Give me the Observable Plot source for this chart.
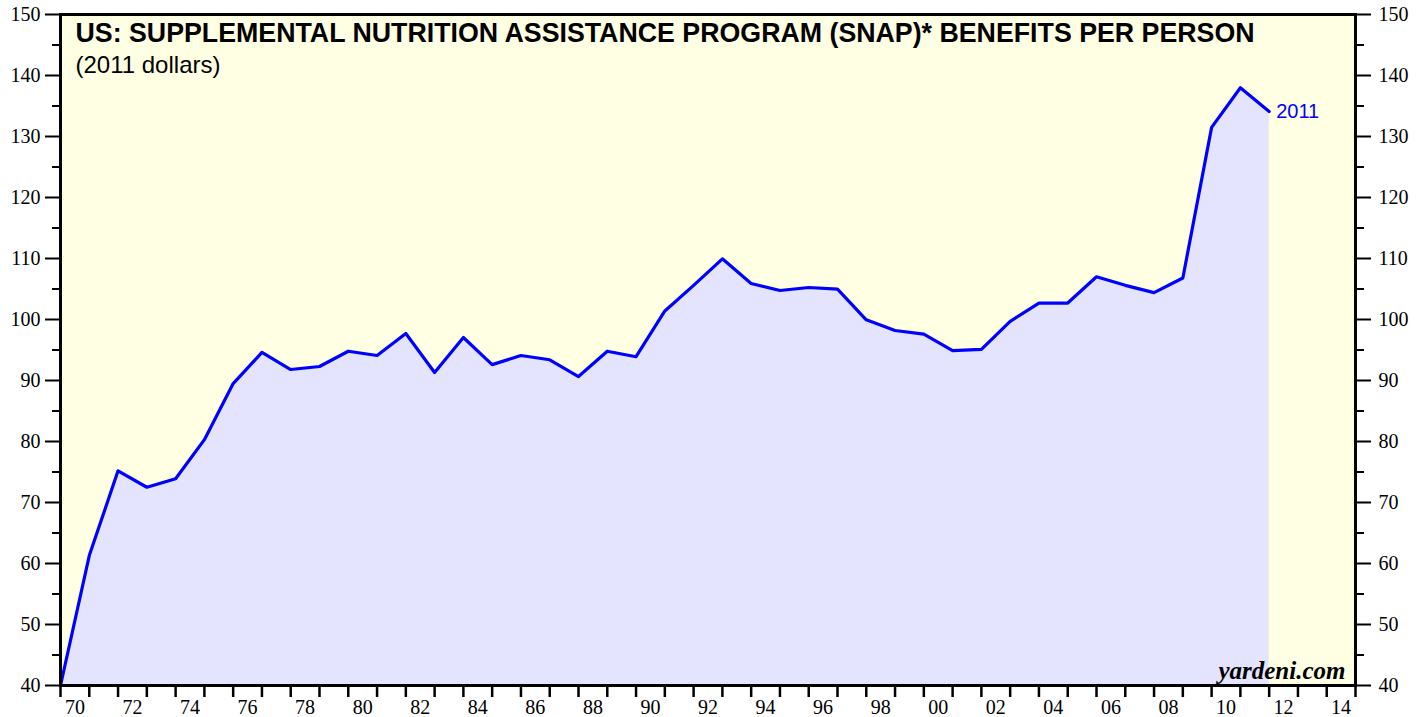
<!DOCTYPE html>
<html>
<head>
<meta charset="utf-8">
<script src="https://cdn.jsdelivr.net/npm/d3@7"></script>
<script src="https://cdn.jsdelivr.net/npm/@observablehq/plot@0.6"></script>
<style>
  html, body { margin: 0; padding: 0; background: #fff; }
  #chart svg { display: block; }
</style>
</head>
<body>
<div id="chart"></div>
<script>
// Fiscal years and SNAP benefits per person (2011 dollars), plotted at year end
const years = [1969,1970,1971,1972,1973,1974,1975,1976,1977,1978,1979,1980,1981,1982,1983,1984,1985,1986,1987,1988,1989,1990,1991,1992,1993,1994,1995,1996,1997,1998,1999,2000,2001,2002,2003,2004,2005,2006,2007,2008,2009,2010,2011];
const values = [40.0,61.3,75.2,72.5,73.9,80.3,89.5,94.6,91.8,92.3,94.8,94.1,97.7,91.3,97.05,92.6,94.1,93.4,90.65,94.8,93.9,101.4,105.6,109.95,105.9,104.75,105.25,104.97,99.95,98.2,97.6,94.9,95.1,99.7,102.7,102.7,107.0,105.6,104.4,106.8,131.5,138.0,134.1];
const yMajor = [40,50,60,70,80,90,100,110,120,130,140,150];
const yMinor = [45,55,65,75,85,95,105,115,125,135,145];
const xTickYears = d3.range(1970, 2016);
const xLabelYears = [1970,1972,1974,1976,1978,1980,1982,1984,1986,1988,1990,1992,1994,1996,1998,2000,2002,2004,2006,2008,2010,2012,2014];
const xLabels = ["70","72","74","76","78","80","82","84","86","88","90","92","94","96","98","00","02","04","06","08","10","12","14"];
const title = "US: SUPPLEMENTAL NUTRITION ASSISTANCE PROGRAM (SNAP)* BENEFITS PER PERSON";
const subtitle = "(2011 dollars)";
const endLabel = "2011";
const source = "yardeni.com";

const data = years.map((y, i) => ({year: y, value: values[i]}));
const last = data[data.length - 1];
const labelMap = new Map(xLabelYears.map((y, i) => [y + 0.5, xLabels[i]]));

const serif = "Liberation Serif, Times New Roman, serif";
const sans = "Liberation Sans, Arial, sans-serif";

const chart = Plot.plot({
  width: 1426,
  height: 717,
  marginLeft: 60,
  marginRight: 71,
  marginTop: 14,
  marginBottom: 32,
  style: {background: "#ffffff", fontFamily: serif, fontSize: "20px", color: "#000"},
  x: {domain: [1970, 2015], label: null},
  y: {domain: [40, 150], label: null},
  marks: [
    Plot.frame({fill: "#FFFFE4"}),
    Plot.areaY(data, {x: d => d.year + 1, y1: 40, y2: "value", fill: "#E4E4FF"}),
    Plot.lineY(data, {x: d => d.year + 1, y: "value", stroke: "#0000FF", strokeWidth: 3.2}),
    Plot.text([last], {x: d => d.year + 1, y: "value", text: () => endLabel, dx: 7, textAnchor: "start", fill: "#0000FF", fontFamily: sans, fontSize: 20}),
    Plot.text([title], {frameAnchor: "top-left", dx: 15, dy: 18.5, fontFamily: sans, fontWeight: "bold", fontSize: 26.75, fill: "#000", lineAnchor: "middle"}),
    Plot.text([subtitle], {frameAnchor: "top-left", dx: 15, dy: 51, fontFamily: sans, fontSize: 24, fill: "#000", lineAnchor: "middle"}),
    Plot.text([source], {frameAnchor: "bottom-right", dx: -10, dy: -15, fontFamily: serif, fontWeight: "bold", fontStyle: "italic", fontSize: 25, fill: "#000", textAnchor: "end", lineAnchor: "middle"}),
    Plot.axisY({anchor: "left", ticks: yMajor, tickSize: 15, tickPadding: 5, strokeWidth: 2, fontSize: 20, fontFamily: serif, label: null}),
    Plot.axisY({anchor: "left", ticks: yMinor, tickSize: 8, tickFormat: () => "", strokeWidth: 2, label: null}),
    Plot.axisY({anchor: "right", ticks: yMajor, tickSize: 15, tickPadding: 8, strokeWidth: 2, fontSize: 20, fontFamily: serif, label: null}),
    Plot.axisY({anchor: "right", ticks: yMinor, tickSize: 8, tickFormat: () => "", strokeWidth: 2, label: null}),
    Plot.axisX({ticks: xTickYears, tickSize: 12, tickFormat: () => "", strokeWidth: 2.5, label: null}),
    Plot.axisX({ticks: xLabelYears.map(y => y + 0.5), tickSize: 0, tickPadding: 14, tickFormat: d => labelMap.get(d), fontSize: 20, fontFamily: serif, label: null}),
    Plot.frame({stroke: "#000", strokeWidth: 3})
  ]
});
document.getElementById("chart").appendChild(chart);
</script>
</body>
</html>
